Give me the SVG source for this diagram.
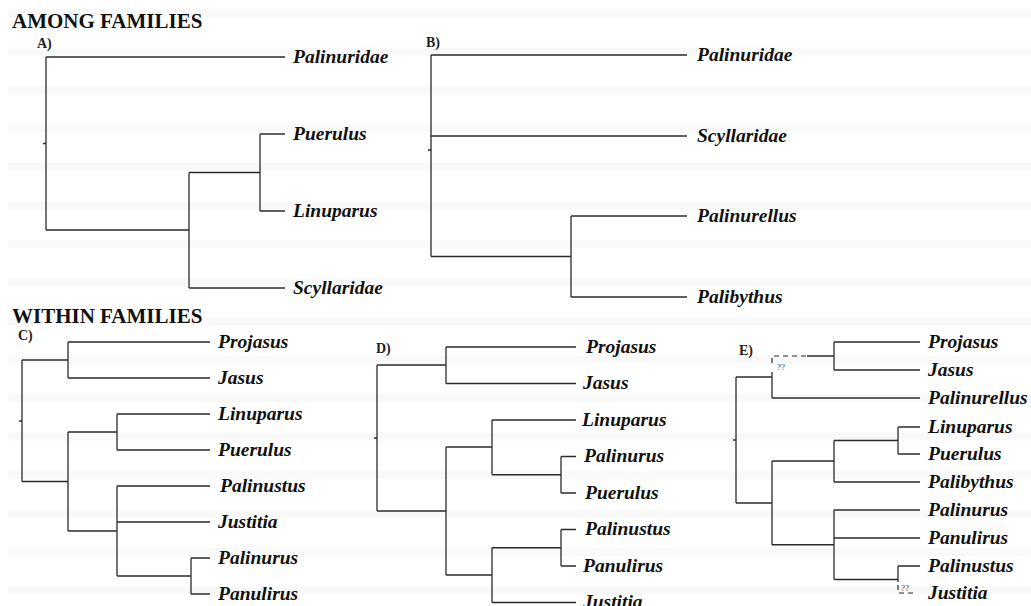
<svg xmlns="http://www.w3.org/2000/svg" width="1031" height="606" viewBox="0 0 1031 606">
<style>
.bg{fill:#f9f9f9}
.e{fill:none;stroke:#2b2b2b;stroke-width:1.3}
.d{fill:none;stroke:#2b2b2b;stroke-width:1.2;stroke-dasharray:5 4}
.t{font-family:"Liberation Serif","Times New Roman",serif;font-weight:bold;font-style:italic;font-size:19.5px;fill:#111}
.h{font-family:"Liberation Serif","Times New Roman",serif;font-weight:bold;font-size:21px;fill:#111}
.p{font-family:"Liberation Serif","Times New Roman",serif;font-weight:bold;font-size:14px;fill:#222}
.q{font-family:"Liberation Serif","Times New Roman",serif;font-size:9px;fill:#444}
</style>
<rect width="1031" height="606" fill="#fff"/>
<g id="stripes">
<rect class="bg" x="8" y="9" width="1023" height="8"/>
<rect class="bg" x="8" y="47.5" width="1023" height="8"/>
<rect class="bg" x="8" y="86" width="1023" height="8"/>
<rect class="bg" x="8" y="124.5" width="1023" height="8"/>
<rect class="bg" x="8" y="163" width="1023" height="8"/>
<rect class="bg" x="8" y="201.5" width="1023" height="8"/>
<rect class="bg" x="8" y="240" width="1023" height="8"/>
<rect class="bg" x="8" y="278.5" width="1023" height="8"/>
<rect class="bg" x="8" y="317" width="1023" height="8"/>
<rect class="bg" x="8" y="355.5" width="1023" height="8"/>
<rect class="bg" x="8" y="394" width="1023" height="8"/>
<rect class="bg" x="8" y="432.5" width="1023" height="8"/>
<rect class="bg" x="8" y="471" width="1023" height="8"/>
<rect class="bg" x="8" y="509.5" width="1023" height="8"/>
<rect class="bg" x="8" y="548" width="1023" height="8"/>
<rect class="bg" x="8" y="586.5" width="1023" height="8"/>
</g>
<g id="headings">
<text class="h" x="12" y="28">AMONG FAMILIES</text>
<text class="h" x="12" y="323">WITHIN FAMILIES</text>
<text class="p" x="37" y="48">A)</text>
<text class="p" x="426" y="47">B)</text>
<text class="p" x="18" y="340">C)</text>
<text class="p" x="376" y="353">D)</text>
<text class="p" x="739" y="355">E)</text>
</g>
<g id="connectors">
<!-- A -->
<path class="e" d="M46,57V230M46,57H285M46,230H189M189,172.5V288M189,172.5H260M189,288H285M260,134V211M260,134H285M260,211H285M43,143.5H46"/>
<!-- B -->
<path class="e" d="M431,55V256.5M431,55H687M431,136H687M431,256.5H571M571,216V297M571,216H687M571,297H687M428,150H431"/>
<!-- C -->
<path class="e" d="M22,360V481.5M22,360H68M22,481.5H68M68,342V378M68,342H210M68,378H210M68,432V531M68,432H117M68,531H117M117,414V450M117,414H210M117,450H210M117,486V576M117,486H210M117,522H210M117,576H191M191,558V594M191,558H210M191,594H210M19,421H22"/>
<!-- D -->
<path class="e" d="M377,365V511M377,365H446M377,511H446M446,347V383.5M446,347H576M446,383.5H576M446,447V575M446,447H492M446,575H492M492,420V474.75M492,420H576M492,474.75H561M561,456.5V493M561,456.5H576M561,493H576M492,547.75V602.5M492,547.75H561M492,602.5H576M561,529.5V566M561,529.5H576M561,566H576M374,438H377"/>
<!-- E -->
<path class="e" d="M736,377V503M736,377H772M736,503H772M772,372V398M807,356H834M834,342V370M834,342H920M834,370H920M772,398H920M772,461V544.75M772,461H834M772,544.75H834M834,440.5V482M834,440.5H898M834,482H920M898,427V454M898,427H920M898,454H920M834,510V579.5M834,510H920M834,538H920M834,579.5H898M898,566V582M898,566H920M733,440H736"/>
<path class="d" d="M772,363V356H807"/>
<path class="d" d="M898,585V593H915"/>
</g>
<g id="uncertain">
<text class="q" x="777" y="370">??</text>
<text class="q" x="901" y="591">??</text>
</g>
<g id="taxaA">
<g id="A-Palinuridae"><text class="t" x="293" y="63">Palinuridae</text></g>
<g id="A-Puerulus"><text class="t" x="293" y="140">Puerulus</text></g>
<g id="A-Linuparus"><text class="t" x="293" y="217">Linuparus</text></g>
<g id="A-Scyllaridae"><text class="t" x="293" y="294">Scyllaridae</text></g>
</g>
<g id="taxaB">
<g id="B-Palinuridae"><text class="t" x="697" y="61">Palinuridae</text></g>
<g id="B-Scyllaridae"><text class="t" x="697" y="142">Scyllaridae</text></g>
<g id="B-Palinurellus"><text class="t" x="697" y="222">Palinurellus</text></g>
<g id="B-Palibythus"><text class="t" x="697" y="303">Palibythus</text></g>
</g>
<g id="taxaC">
<g id="C-Projasus"><text class="t" x="218" y="348">Projasus</text></g>
<g id="C-Jasus"><text class="t" x="218" y="384">Jasus</text></g>
<g id="C-Linuparus"><text class="t" x="218" y="420">Linuparus</text></g>
<g id="C-Puerulus"><text class="t" x="218" y="456">Puerulus</text></g>
<g id="C-Palinustus"><text class="t" x="220" y="492">Palinustus</text></g>
<g id="C-Justitia"><text class="t" x="218" y="528">Justitia</text></g>
<g id="C-Palinurus"><text class="t" x="218" y="564">Palinurus</text></g>
<g id="C-Panulirus"><text class="t" x="218" y="600">Panulirus</text></g>
</g>
<g id="taxaD">
<g id="D-Projasus"><text class="t" x="586" y="353">Projasus</text></g>
<g id="D-Jasus"><text class="t" x="583" y="389">Jasus</text></g>
<g id="D-Linuparus"><text class="t" x="582" y="426">Linuparus</text></g>
<g id="D-Palinurus"><text class="t" x="584" y="462">Palinurus</text></g>
<g id="D-Puerulus"><text class="t" x="585" y="499">Puerulus</text></g>
<g id="D-Palinustus"><text class="t" x="585" y="535">Palinustus</text></g>
<g id="D-Panulirus"><text class="t" x="583" y="572">Panulirus</text></g>
<g id="D-Justitia"><text class="t" x="583" y="608">Justitia</text></g>
</g>
<g id="taxaE">
<g id="E-Projasus"><text class="t" x="928" y="348">Projasus</text></g>
<g id="E-Jasus"><text class="t" x="928" y="376">Jasus</text></g>
<g id="E-Palinurellus"><text class="t" x="928" y="404">Palinurellus</text></g>
<g id="E-Linuparus"><text class="t" x="928" y="433">Linuparus</text></g>
<g id="E-Puerulus"><text class="t" x="928" y="460">Puerulus</text></g>
<g id="E-Palibythus"><text class="t" x="928" y="488">Palibythus</text></g>
<g id="E-Palinurus"><text class="t" x="928" y="516">Palinurus</text></g>
<g id="E-Panulirus"><text class="t" x="928" y="544">Panulirus</text></g>
<g id="E-Palinustus"><text class="t" x="928" y="572">Palinustus</text></g>
<g id="E-Justitia"><text class="t" x="928" y="599">Justitia</text></g>
</g>
</svg>
